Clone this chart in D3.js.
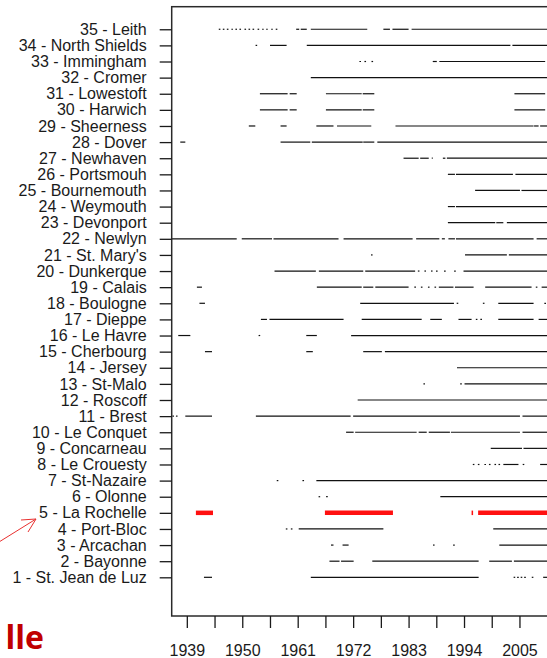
<!DOCTYPE html>
<html><head><meta charset="utf-8">
<script src="https://cdn.jsdelivr.net/npm/d3@7"></script>
<style>html,body{margin:0;padding:0;background:#fff;overflow:hidden}</style>
</head><body><svg id="c" width="547" height="658"></svg>
<script>
// Station names (row 1 at bottom .. row 35 at top)
const stationNames = ["1 - St. Jean de Luz","2 - Bayonne","3 - Arcachan","4 - Port-Bloc","5 - La Rochelle",
 "6 - Olonne","7 - St-Nazaire","8 - Le Crouesty","9 - Concarneau","10 - Le Conquet","11 - Brest",
 "12 - Roscoff","13 - St-Malo","14 - Jersey","15 - Cherbourg","16 - Le Havre","17 - Dieppe",
 "18 - Boulogne","19 - Calais","20 - Dunkerque","21 - St. Mary's","22 - Newlyn","23 - Devonport",
 "24 - Weymouth","25 - Bournemouth","26 - Portsmouh","27 - Newhaven","28 - Dover","29 - Sheerness",
 "30 - Harwich","31 - Lowestoft","32 - Cromer","33 - Immingham","34 - North Shields","35 - Leith"];

// Observation periods [start, end] per station, and isolated observations (years)
const stJeanDeLuz = [[1942.4,1944],[1963.6,1996.9],[2009.7,2010.6]];
const stJeanDeLuzDots = [2004,2004.7,2005.4,2006.1,2007.6];
const bayonne = [[1967.3,1969.3],[1969.6,1972.1],[1975.8,1996.9],[1999,2003.5],[2003.9,2010.6]];
const bayonneDots = [];
const arcachon = [[1967.6,1968.1],[1969.9,1971.1],[2001,2010.6]];
const arcachonDots = [1988,1992];
const portBloc = [[1961.2,1978],[1999.8,2010.6]];
const portBlocDots = [1958.8,1959.8];
const laRochelle = [[1940.8,1944.2],[1966.4,1979.9],[1995.5,1995.8],[1996.8,2010.6]];
const olonne = [[1989.3,2010.6]];
const olonneDots = [1965.3,1966.8];
const stNazaire = [[1964.7,2010.6]];
const stNazaireDots = [1957,1962.1];
const leCrouesty = [[2001.8,2004.8],[2009.1,2010.6]];
const leCrouestyDots = [1995.9,1996.9,1998.2,1999.1,2000.2,2001,2005.8];
const concarneau = [[1999.3,2005.5],[2005.8,2010.6]];
const leConquet = [[1970.6,1972.1],[1972.4,1984.6],[1985,1986.6],[1987,1991.2],[1991.4,2005.1],[2005.6,2010.6]];
const brest = [[1938.7,1944],[1952.7,1971.5],[1972,2005.1],[2005.6,2010.6]];
const brestDots = [1936.3,1937];
const roscoff = [[1972.9,2010.6]];
const stMalo = [[1994.1,2010.6]];
const stMaloDots = [1986.1,1993.4];
const jersey = [[1992.6,2010.6]];
const cherbourg = [[1942.6,1944],[1962.7,1964],[1974,1977.7],[1978.3,2010.6]];
const leHavre = [[1937.3,1939.7],[1962.7,1964.8],[1971.6,2010.6]];
const leHavreDots = [1953.4];
const dieppe = [[1953.7,1954.9],[1955.4,1970.1],[1973.7,1985.6],[1987.3,1989.6],[1992.9,1995.5],[2000.8,2007.8],[2008.8,2010.6]];
const dieppeDots = [1996.5,1997.4];
const boulogne = [[1941.5,1942.6],[1973.4,1992.0],[2000.8,2007.8]];
const boulogneDots = [1992.7,1997.9,2010.1];
const calais = [[1941,1942],[1964.8,1973.7],[1974,1976],[1976.4,1983],[1989,1991.9],[1992.2,1995.9],[1998.2,2007.4],[2009.4,2010.6]];
const calaisDots = [1984.3,1985.6,1987,1988.3,2008.4];
const dunkerque = [[1956.4,1964.6],[1965.2,1974],[1974.4,1984.3],[1993.9,2010.6]];
const dunkerqueDots = [1985,1986.3,1987.6,1988.6,1990.2,1992.2];
const stMarys = [[1994.2,2002.5],[2002.9,2010.6]];
const stMarysDots = [1975.7];
const newlyn = [[1936,1948.9],[1949.9,1955.9],[1956.2,1969.1],[1970.1,1983.8],[1984.5,1989.1],[1989.6,1990.2],[1990.9,1992.2],[1992.4,2007.8],[2008.4,2010.6]];
const devonport = [[1990.8,2000.2],[2000.4,2001.8],[2002.5,2010.6]];
const weymouth = [[1990.8,1992.2],[1992.4,2010.6]];
const bournemouth = [[1996.2,2005.1],[2005.4,2010.6]];
const portsmouth = [[1990.8,1992.2],[1992.4,2003.7],[2004.2,2010.6]];
const newhaven = [[1982,1985],[1985.3,1987],[1987.6,1987.8],[1989.8,1990.3],[1990.6,2010.6]];
const dover = [[1937.7,1938.7],[1957.6,1963.5],[1963.8,1973.9],[1974,1976.2],[1976.8,2010.6]];
const sheerness = [[1951.3,1952.6],[1957.6,1958.8],[1964.7,1968.1],[1968.8,1975.6],[1980.4,2007.8],[2007.9,2008.8],[2009.1,2010.6]];
const harwich = [[1953.5,1959],[1959.4,1960.8],[1966.6,1973.7],[1973.9,1976.2],[2004,2010.1]];
const lowestoft = [[1953.5,1959],[1959.4,1960.8],[1966.6,1973.7],[1973.9,1976.2],[2004,2010.1]];
const cromer = [[1963.6,2010.6]];
const immingham = [[1987.8,1988.6],[1989.1,2010.1]];
const imminghamDots = [1973.4,1974.4,1975.8];
const northShields = [[1955.5,1958.8],[1962.8,2003.2],[2003.6,2010.6]];
const northShieldsDots = [1952.8];
const leith = [[1960.7,1961.3],[1961.6,1962.8],[1963.6,1974.8],[1978,1979.3],[1979.8,1983],[1983.6,2010.6]];
const leithDots = [1945.5,1946.3,1947.1,1948,1948.8,1949.6,1950.6,1951.4,1952.2,1953.2,1954.1,1954.9,1955.9,1956.8];

const highlightRow = 5;
const xTickValues = [1939,1944.5,1950,1955.5,1961,1966.5,1972,1977.5,1983,1988.5,1994,1999.5,2005,2010.5];
const xTickLabels = ["1939","","1950","","1961","","1972","","1983","","1994","","2005",""];

const periodsByRow = [stJeanDeLuz,bayonne,arcachon,portBloc,laRochelle,olonne,stNazaire,leCrouesty,concarneau,
 leConquet,brest,roscoff,stMalo,jersey,cherbourg,leHavre,dieppe,boulogne,calais,dunkerque,stMarys,newlyn,
 devonport,weymouth,bournemouth,portsmouth,newhaven,dover,sheerness,harwich,lowestoft,cromer,immingham,
 northShields,leith];
const dotsByRow = [stJeanDeLuzDots,bayonneDots,arcachonDots,portBlocDots,[],olonneDots,stNazaireDots,leCrouestyDots,[],
 [],brestDots,[],stMaloDots,[],[],leHavreDots,dieppeDots,boulogneDots,calaisDots,dunkerqueDots,stMarysDots,[],
 [],[],[],[],[],[],[],[],[],[],imminghamDots,northShieldsDots,leithDots];

const svg = d3.select("#c");
const plotLeft = 171.7, plotTop = 6.7, plotBottom = 616, pxPerYear = 5.04;
const x = d3.scaleLinear().domain([1936, 2011]).range([plotLeft, plotLeft + 75*pxPerYear]);
const y = d3.scaleLinear().domain([-1.4, 36.4]).range([plotBottom, plotTop]);
const font = "'Liberation Sans', Arial, sans-serif";
const ink = "#1a1a1a";

const segs = [], dots = [];
periodsByRow.forEach((arr, i) => arr.forEach(p => segs.push({row: i+1, s: p[0], e: p[1]})));
dotsByRow.forEach((arr, i) => arr.forEach(d => dots.push({row: i+1, d})));

const plot = svg.append("g");
plot.selectAll("line.seg").data(segs).join("line").attr("class", "seg")
  .attr("x1", d => x(d.s)).attr("x2", d => Math.max(x(d.e), x(d.s)+1))
  .attr("y1", d => y(d.row)).attr("y2", d => y(d.row))
  .attr("stroke", d => d.row === highlightRow ? "#ff1010" : "#111")
  .attr("stroke-width", d => d.row === highlightRow ? 4.5 : 1.2);
plot.selectAll("line.dot").data(dots).join("line").attr("class", "dot")
  .attr("x1", d => x(d.d) - 0.8).attr("x2", d => x(d.d) + 0.8)
  .attr("y1", d => y(d.row)).attr("y2", d => y(d.row))
  .attr("stroke", "#111").attr("stroke-width", 1.2);

svg.append("rect").attr("x", plotLeft).attr("y", plotTop).attr("width", 420).attr("height", plotBottom - plotTop)
  .attr("fill", "none").attr("stroke", "#2a2a2a").attr("stroke-width", 1.5);

const xa = svg.append("g").attr("transform", `translate(0,${plotBottom})`)
  .call(d3.axisBottom(x).tickValues(xTickValues).tickSize(12).tickPadding(16.6)
    .tickFormat((d, i) => xTickLabels[i]));
xa.select(".domain").remove();
xa.selectAll("line").attr("stroke", ink).attr("stroke-width", 1.3);
xa.selectAll("text").attr("font-family", font).attr("font-size", 16).attr("fill", ink);

const ya = svg.append("g").attr("transform", `translate(${plotLeft},0)`)
  .call(d3.axisLeft(y).tickValues(d3.range(1, 36)).tickSize(12).tickPadding(13)
    .tickFormat(d => stationNames[d-1]));
ya.select(".domain").remove();
ya.selectAll("line").attr("stroke", ink).attr("stroke-width", 1.3);
ya.selectAll("text").attr("font-family", font).attr("font-size", 16).attr("fill", ink);

svg.append("text").attr("x", 44).attr("y", 649).attr("text-anchor", "end")
  .attr("font-family", "'Open Sans', sans-serif").attr("font-weight", 700).attr("font-size", 32)
  .attr("fill", "#c00000").text("lle");
const ar = svg.append("g").attr("stroke", "#e8302f").attr("stroke-width", 1).attr("fill", "none");
ar.append("line").attr("x1", -1).attr("y1", 542).attr("x2", 36).attr("y2", 519);
ar.append("polyline").attr("points", "21,520 36,519 28,532");
</script></body></html>
